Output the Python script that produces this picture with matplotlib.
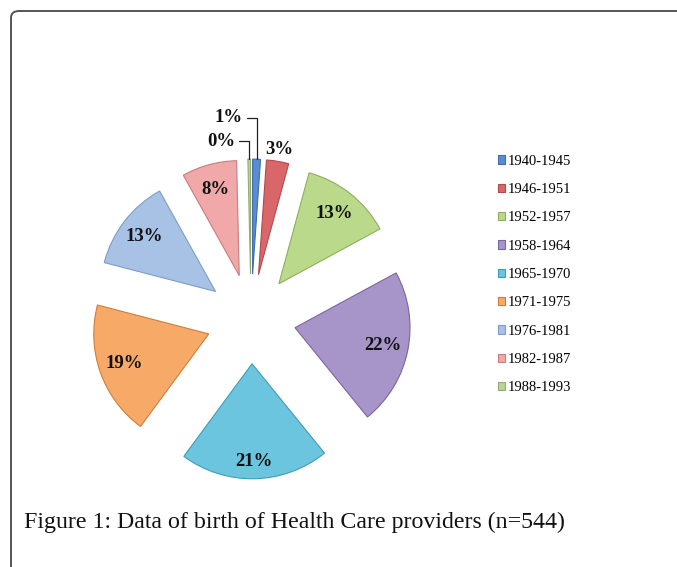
import matplotlib.pyplot as plt
from matplotlib.patches import FancyBboxPatch
import numpy as np

# birth-year groups and number of providers in each (n=544)
groups = ['1940-1945', '1946-1951', '1952-1957', '1958-1964', '1965-1970',
          '1971-1975', '1976-1981', '1982-1987', '1988-1993']
counts = [6, 17, 70, 120, 114, 103, 70, 42, 2]
colors = ['#5b8bd0', '#d9676a', '#bad98a', '#a794c8', '#6cc5de',
          '#f7a968', '#a8c2e6', '#f0a8a8', '#bcd39a']
edges = ['#3f6db0', '#b04a4d', '#8fae5c', '#7a66a0', '#3f9cb8',
         '#d07d3a', '#7d9cc8', '#c97c7c', '#93ab6c']
caption = 'Figure 1: Data of birth of Health Care providers (n=544)'

n = sum(counts)
pcts = [round(100 * c / n) for c in counts]
explode = 0.39

fig = plt.figure(figsize=(6.77, 5.67), dpi=100)

# rounded frame around the figure
frame = FancyBboxPatch((11 / 677, -0.1), 1.0, 1.0 - 11 / 567 + 0.1,
                       boxstyle='round,pad=0,rounding_size=0.012',
                       transform=fig.transFigure, fill=False,
                       edgecolor='#555555', linewidth=1.4)
fig.patches.append(frame)

ax = fig.add_axes([0.099, 0.113, 0.5436, 0.649])
wedges, _ = ax.pie(counts, colors=colors, startangle=90, counterclock=False,
                   explode=[explode] * len(counts),
                   wedgeprops=dict(linewidth=0.8))
for w, ec in zip(wedges, edges):
    w.set_edgecolor(ec)
ax.set_xlim(-1.6, 1.6)
ax.set_ylim(-1.6, 1.6)
ax.set_aspect('equal')
ax.axis('off')

lab_font = dict(family='Liberation Serif', fontweight='bold', fontsize=13.5,
                color='#111111')
for i, w in enumerate(wedges):
    mid = np.deg2rad((w.theta1 + w.theta2) / 2)
    txt = f'{pcts[i]}%'
    if i == 0 or i == 8:
        # tiny slices: label with a leader line
        tip = (explode + 1) * np.cos(mid), (explode + 1) * np.sin(mid)
        pos = (-0.07, 1.75) if i == 0 else (-0.14, 1.545)
        ax.annotate(txt, xy=tip, xytext=pos, ha='right', va='center',
                    arrowprops=dict(arrowstyle='-', color='#222222', lw=0.9,
                                    shrinkA=1, shrinkB=0,
                                    connectionstyle='angle,angleA=0,angleB=90,rad=0'),
                    annotation_clip=False, **lab_font)
    elif i == 1:
        r = 1.49
        ax.text(r * np.cos(mid), r * np.sin(mid), txt, ha='center',
                va='center', **lab_font)
    else:
        r = explode + (0.85 if i == 4 else 0.78)
        ax.text(r * np.cos(mid), r * np.sin(mid), txt, ha='center',
                va='center', **lab_font)

leg = fig.legend(wedges, groups, loc='upper left',
                 bbox_to_anchor=(492 / 677, 1 - 149 / 567), frameon=False,
                 prop=dict(family='Liberation Serif', size=10.5),
                 handlelength=0.5, handleheight=0.5, handletextpad=0.15,
                 labelspacing=1.05, borderaxespad=0)

fig.text(24 / 677, 1 - 522 / 567, caption, family='Liberation Serif',
         fontsize=17.2, ha='left', va='center', color='#111111')

fig.savefig('out.png', dpi=100)
